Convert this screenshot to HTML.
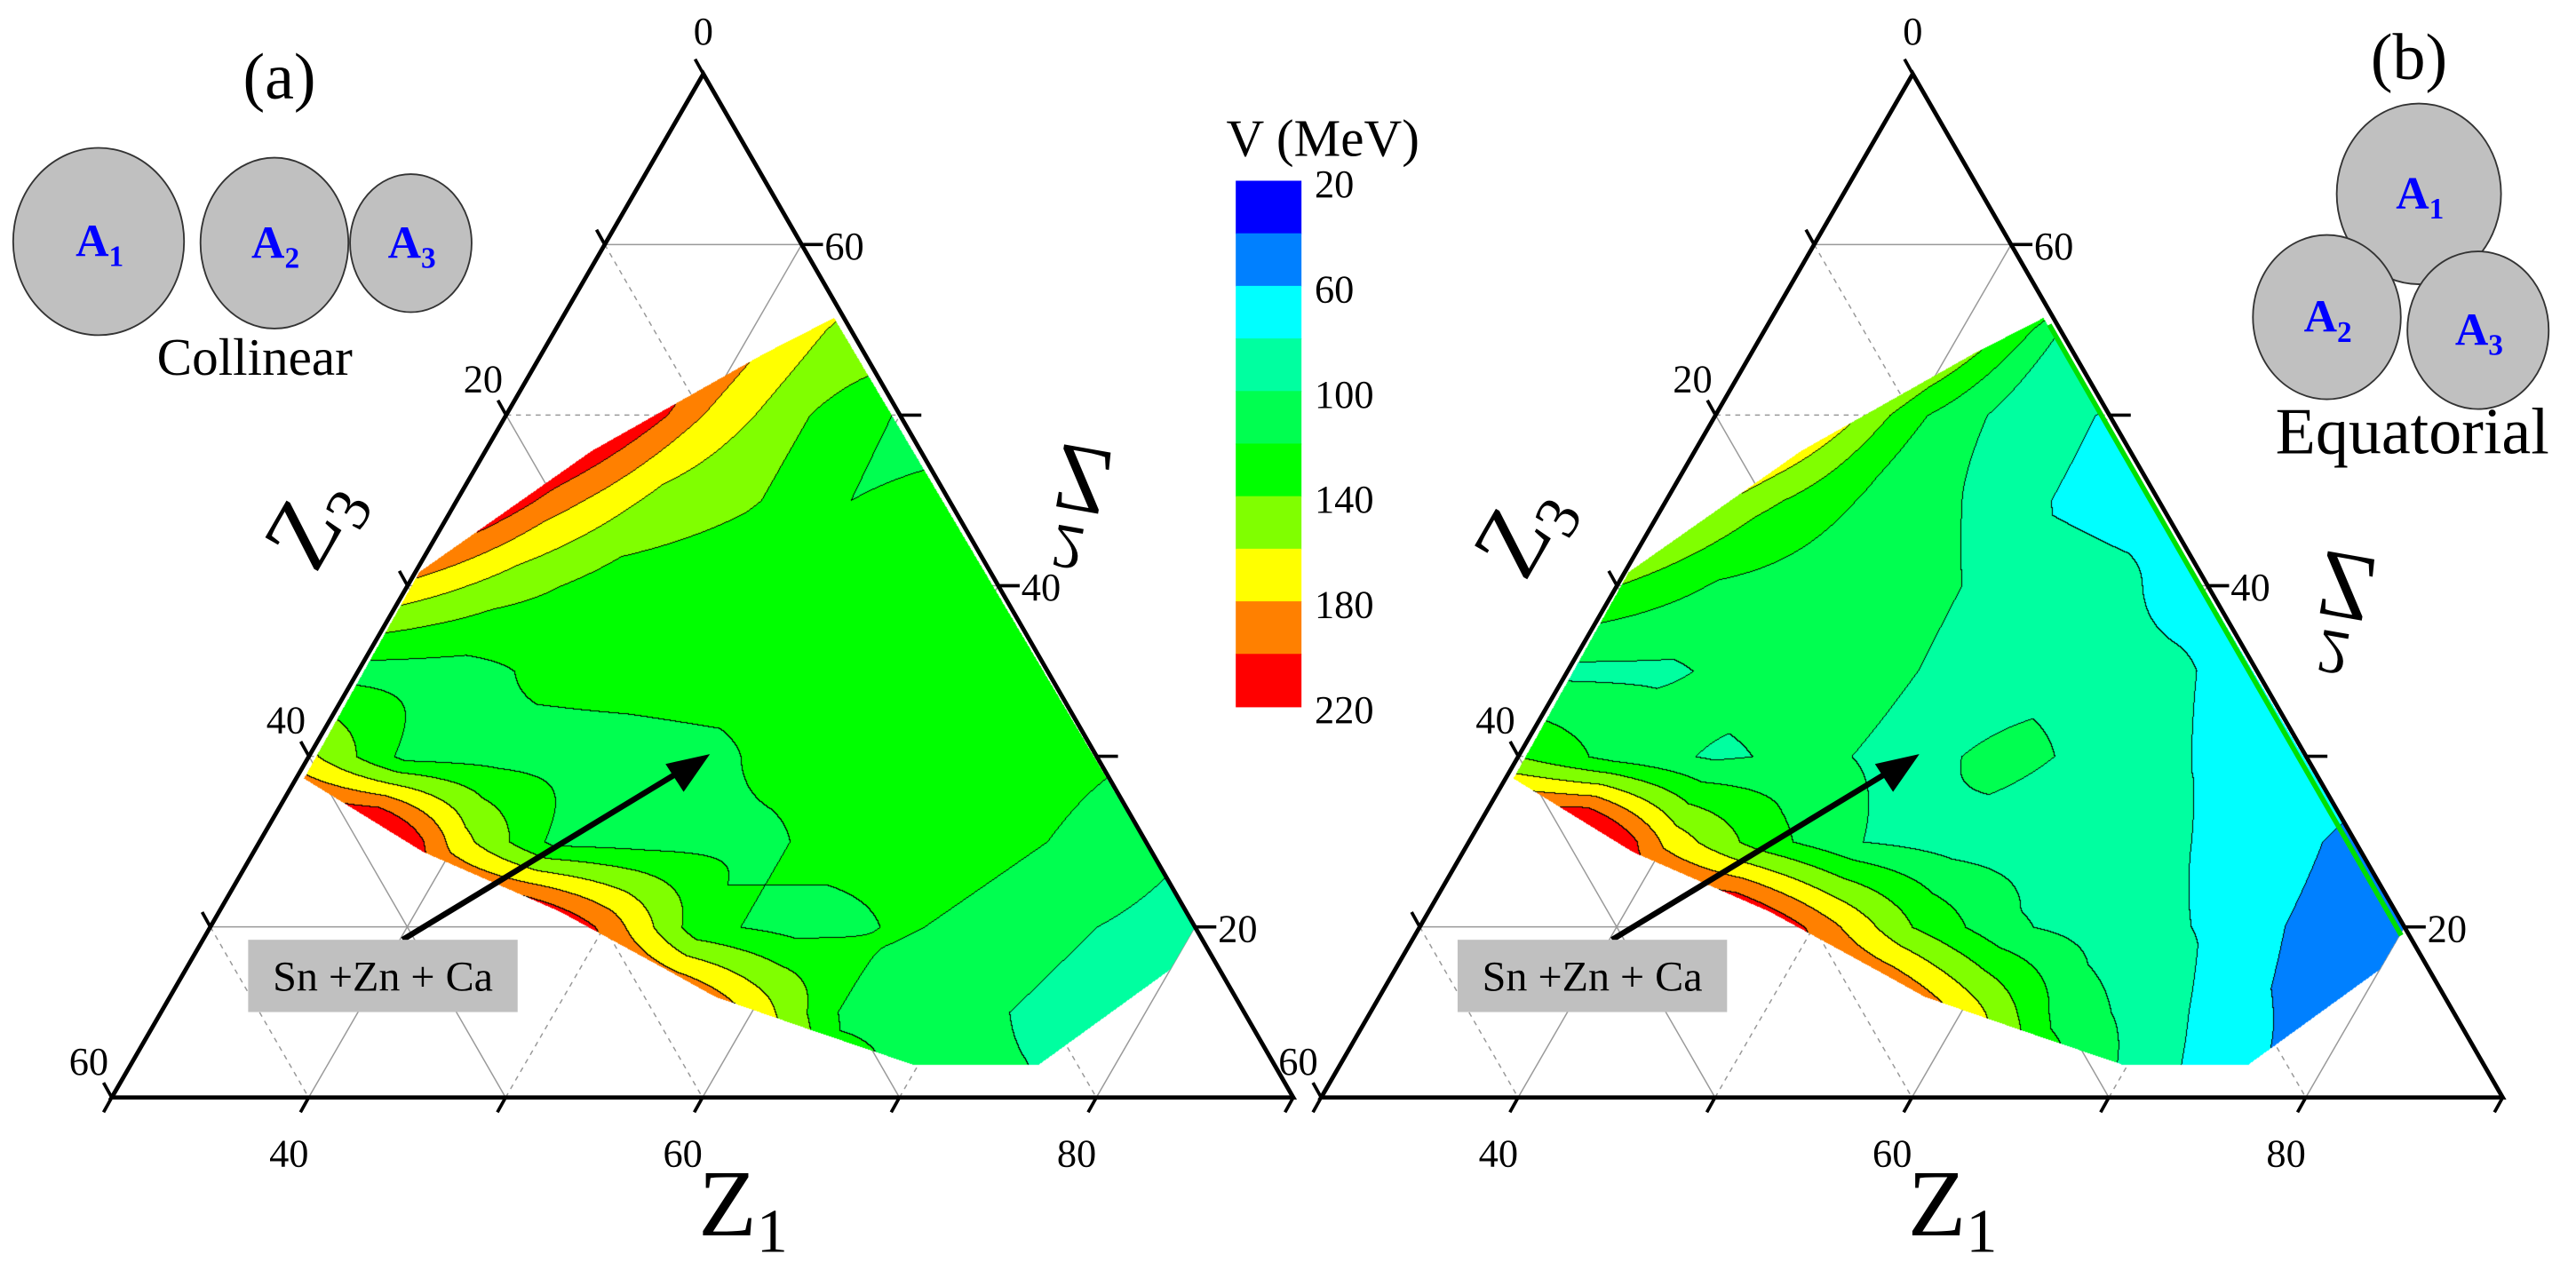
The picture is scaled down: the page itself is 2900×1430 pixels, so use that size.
<!DOCTYPE html>
<html><head><meta charset="utf-8">
<style>
html,body{margin:0;padding:0;background:#fff;}
#wrap{position:relative;width:2900px;height:1430px;overflow:hidden;background:#fff;}
svg,canvas{position:absolute;left:0;top:0;}
text{font-family:"Liberation Serif",serif;}
</style></head>
<body>
<div id="wrap">
<svg id="back" width="2900" height="1430" viewBox="0 0 1567.6 773"></svg>
<canvas id="cv" width="2900" height="1430"></canvas>
<svg id="front" width="2900" height="1430" viewBox="0 0 1567.6 773"></svg>
</div>
<script>
// ---- data ----
const z1Cols=[30,35,40,45,50,55,60,65,70,75,80,85,90];
const z2Rows=[10,15,20,25,30,35,40,45,50,55,60,65,70];
const vCollinear=[
[250,250,250,250,250,250,230,150,112,105,92,90,90],
[250,250,250,250,250,230,175,112,108,95,90,90,90],
[250,250,250,250,195,125,112,122,114,100,95,95,95],
[250,260,170,114,112,115,128,128,120,106,95,95,95],
[165,113,112,112,115,128,130,127,122,118,118,118,118],
[112,113,125,128,130,130,128,125,125,125,125,125,125],
[175,150,132,128,128,128,125,125,125,125,125,125,125],
[240,190,155,142,120,122,122,122,122,122,122,122,122],
[240,235,180,142,118,118,118,118,118,118,118,118,118],
[240,240,190,150,150,150,150,150,150,150,150,150,150],
[240,235,210,170,170,170,170,170,170,170,170,170,170],
[240,235,220,190,190,190,190,190,190,190,190,190,190],
[240,240,240,240,240,240,240,240,240,240,240,240,240]];
const vEquatorial=[
[250,250,250,250,250,250,230,150,100,70,50,45,45],
[250,250,250,250,250,230,175,113,88,62,50,45,45],
[250,250,250,250,195,140,103,90,78,55,45,45,45],
[250,260,175,128,100,90,88,85,70,55,55,55,55],
[140,112,97,105,92,108,90,78,65,65,65,65,65],
[95,97,108,110,92,90,85,72,72,72,72,72,72],
[140,118,112,110,90,85,70,70,70,70,70,70,70],
[185,145,118,100,78,72,72,72,72,72,72,72,72],
[230,190,125,92,78,78,78,78,78,78,78,78,78],
[235,225,170,100,100,100,100,100,100,100,100,100,100],
[235,225,190,150,150,150,150,150,150,150,150,150,150],
[235,230,210,180,180,180,180,180,180,180,180,180,180],
[235,235,235,235,235,235,235,235,235,235,235,235,235]];
const regionZ1=[43.8,80,80,76.1,69.8,63.4,57.7,54.4,47.3,38.6,30.4,30.2,35.4,41.3];
const regionZ2=[55.7,20,17.5,11.9,11.9,14.0,15.9,17.5,20.9,24.4,28.7,40.8,47.9,53.6];
const levels=[20,40,60,80,100,120,140,160,180,200,220];
const levelLabels=["20","60","100","140","180","220"];
const bandColors=["#0000ff","#0080ff","#00ffff","#00ffa0","#00ff50","#00ff00","#80ff00","#ffff00","#ff8000","#ff0000"];
const z1Ticks=[30,40,50,60,70,80,90];
const z1Labels=[40,60,80];
const z2Ticks=[20,30,40,50,60];
const z2Labels=[20,40,60];
const z3Ticks=[0,10,20,30,40,50,60];
const z3Labels=[0,20,40,60];

const S=2900/1567.6;
const NS="http://www.w3.org/2000/svg";
const panels=[{ox:0,grid:vCollinear,id:'a',z2t:[659,292,650,333]},{ox:736,grid:vEquatorial,id:'b',z2t:[1428,357,1420,397]}];
const BL={x:68,y:668},TP={x:428,y:45},BR={x:787,y:668};
function pt(p,z1,z2){const wT=(z2-10)/60,wR=(z1-30)/60;
 return {x:p.ox+BL.x+(BR.x-BL.x)*wR+(TP.x-BL.x)*wT, y:BL.y+(TP.y-BL.y)*wT};}
function inv(p,u,v){const wT=(BL.y-v)/(BL.y-TP.y);const wR=(u-p.ox-BL.x-(TP.x-BL.x)*wT)/(BR.x-BL.x);
 return [30+60*wR,10+60*wT];}
function inRegion(a,b){let c=false;const n=regionZ1.length;
 for(let i=0,j=n-1;i<n;j=i++){const xi=regionZ1[i],yi=regionZ2[i],xj=regionZ1[j],yj=regionZ2[j];
  if((yi>b)!=(yj>b)&&a<(xj-xi)*(b-yi)/(yj-yi)+xi)c=!c;}return c;}
function val(g,z1,z2){let fi=Math.min(Math.max((z1-30)/5,0),11.999),fj=Math.min(Math.max((z2-10)/5,0),11.999);
 const i=Math.floor(fi),j=Math.floor(fj),di=fi-i,dj=fj-j;
 return g[j][i]*(1-di)*(1-dj)+g[j][i+1]*di*(1-dj)+g[j+1][i]*(1-di)*dj+g[j+1][i+1]*di*dj;}
function band(v){let b=Math.floor((v-levels[0])/20);return Math.max(0,Math.min(bandColors.length-1,b));}
function hex(c){return [parseInt(c.substr(1,2),16),parseInt(c.substr(3,2),16),parseInt(c.substr(5,2),16)];}
const rgb=bandColors.map(hex);

// ---- canvas contour fill ----
const cv=document.getElementById('cv');const ctx=cv.getContext('2d');
const img=ctx.createImageData(2900,1430);const D=img.data;
panels.forEach(p=>{
 const x0=Math.floor((p.ox+170)*S),x1=Math.ceil((p.ox+740)*S),y0=Math.floor(180*S),y1=Math.ceil(660*S);
 const W=x1-x0,H=y1-y0;const B=new Int8Array(W*H).fill(-1);
 for(let y=0;y<H;y++)for(let x=0;x<W;x++){
  const z=inv(p,(x0+x+0.5)/S,(y0+y+0.5)/S);
  if(!inRegion(z[0],z[1]))continue;
  B[y*W+x]=band(val(p.grid,z[0],z[1]));}
 for(let y=0;y<H;y++)for(let x=0;x<W;x++){
  const b=B[y*W+x];if(b<0)continue;
  const k=((y0+y)*2900+(x0+x))*4;
  let edge=(x>0&&B[y*W+x-1]>=0&&B[y*W+x-1]!=b)||(y>0&&B[(y-1)*W+x]>=0&&B[(y-1)*W+x]!=b);
  const c=edge?[0,0,0]:rgb[b];
  D[k]=c[0];D[k+1]=c[1];D[k+2]=c[2];D[k+3]=255;}
});
ctx.putImageData(img,0,0);

// ---- svg helpers ----
const back=document.getElementById('back'),front=document.getElementById('front');
function el(parent,tag,attrs,txt){const e=document.createElementNS(NS,tag);for(const k in attrs)e.setAttribute(k,attrs[k]);if(txt!==undefined)e.textContent=txt;parent.appendChild(e);return e;}

panels.forEach(p=>{
 for(let v=40;v<=80;v+=10){const a=pt(p,v,10),b=pt(p,v,100-v);
  const g=el(back,'line',{x1:a.x,y1:a.y,x2:b.x,y2:b.y,stroke:'#999','stroke-width':0.8,'stroke-dasharray':(v%20==0)?'none':'3,3'});
  }
 for(let v=20;v<=60;v+=10){const a=pt(p,30,v),b=pt(p,100-v,v);
  const g=el(back,'line',{x1:a.x,y1:a.y,x2:b.x,y2:b.y,stroke:'#999','stroke-width':0.8,'stroke-dasharray':(v%20==0)?'none':'3,3'});
  }
 for(let v=10;v<=50;v+=10){const a=pt(p,30,70-v),b=pt(p,90-v,10);
  const g=el(back,'line',{x1:a.x,y1:a.y,x2:b.x,y2:b.y,stroke:'#999','stroke-width':0.8,'stroke-dasharray':(v%20==0)?'none':'3,3'});
  }
 const A=pt(p,30,10),T=pt(p,30,70),R=pt(p,90,10);
 const tri=el(front,'polygon',{points:`${A.x},${A.y} ${T.x},${T.y} ${R.x},${R.y}`,fill:'none',stroke:'#000','stroke-width':2.6,'stroke-linejoin':'miter'});
 
 z1Ticks.forEach(v=>{const q=pt(p,v,10);const t=el(front,'line',{x1:q.x,y1:q.y,x2:q.x-5,y2:q.y+9,stroke:'#000','stroke-width':2});
  });
 z1Labels.forEach(v=>{const q=pt(p,v,10);const t=el(front,'text',{x:q.x-12,y:q.y+42,'font-size':24,'text-anchor':'middle'},String(v));
  });
 z2Ticks.forEach(v=>{const q=pt(p,100-v,v);const t=el(front,'line',{x1:q.x,y1:q.y,x2:q.x+13,y2:q.y,stroke:'#000','stroke-width':2});
  });
 z2Labels.forEach(v=>{const q=pt(p,100-v,v);const t=el(front,'text',{x:q.x+14,y:q.y+9,'font-size':24},String(v));
  });
 z3Ticks.forEach(v=>{const q=pt(p,30,70-v);const t=el(front,'line',{x1:q.x,y1:q.y,x2:q.x-5,y2:q.y-9,stroke:'#000','stroke-width':2});
  });
 z3Labels.forEach(v=>{const q=pt(p,30,70-v);const dx=v==0?0:-14,dy=v==0?-18:-14;
  const t=el(front,'text',{x:q.x+dx,y:q.y+dy,'font-size':24,'text-anchor':'middle'},String(v));
  });
 const t1=el(front,'text',{x:p.ox+425,y:752,'font-size':58},'');
 
 el(t1,'tspan',{},'Z');el(t1,'tspan',{'font-size':38,dy:10},'1');
 const t3=el(front,'text',{x:0,y:0,'font-size':58,transform:`translate(${p.ox+192},${p.id=='a'?350:355}) rotate(-60)`},'');
 
 el(t3,'tspan',{},'Z');el(t3,'tspan',{'font-size':38,dy:10},'3');
 const c=p.z2t;
 const t2=el(front,'text',{x:0,y:0,'font-size':58,'text-anchor':'middle','dominant-baseline':'central',transform:`translate(${c[0]},${c[1]}) rotate(10) scale(1,-1)`},'Z');
 
 const t2s=el(front,'text',{x:0,y:0,'font-size':38,'text-anchor':'middle','dominant-baseline':'central',transform:`translate(${c[2]},${c[3]}) rotate(10) scale(1,-1)`},'2');
 
 const ar=el(front,'line',{x1:p.ox+245,y1:572,x2:p.ox+418,y2:467,stroke:'#000','stroke-width':3.5});
 
 const ah=el(front,'polygon',{points:`${p.ox+432},${459} ${p.ox+405},${465} ${p.ox+416},${482}`,fill:'#000'});
 
 const bx=el(front,'rect',{x:p.ox+151,y:572,width:164,height:44,fill:'#c0c0c0'});
 
 const bt=el(front,'text',{x:p.ox+233,y:603,'font-size':26,'text-anchor':'middle'},'Sn +Zn + Ca');
 
});

(function(){const p=panels[1];const a=pt(p,44.5,55.3),b=pt(p,80.3,19.5);
 const l=el(front,'line',{x1:a.x-2.5,y1:a.y,x2:b.x-2.5,y2:b.y,stroke:'#00e000','stroke-width':3});
 })();

const cb=el(front,'g',{});
bandColors.forEach((c,i)=>{const r=el(cb,'rect',{x:752,y:110+i*32,width:40,height:32.5,fill:c});
 });
levelLabels.forEach((t,i)=>{const e=el(cb,'text',{x:800,y:120+i*64,'font-size':24},t);
 });
const ct=el(front,'text',{x:805,y:95,'font-size':32,'text-anchor':'middle'},'V (MeV)');


function circ(cx,cy,rx,ry,lab,name){const c=el(front,'ellipse',{cx:cx,cy:cy,rx:rx,ry:ry,fill:'#c0c0c0',stroke:'#333','stroke-width':1});
 
 const t=el(front,'text',{x:cx-14,y:cy+9,'font-size':28,'font-weight':'bold',fill:'#0000ff'},'');
 
 el(t,'tspan',{},'A');el(t,'tspan',{'font-size':18,dy:6},lab);}
circ(60,147,52,57,'1','fragment-a1-collinear');circ(167,148,45,52,'2','fragment-a2-collinear');circ(250,148,37,42,'3','fragment-a3-collinear');
circ(1472,118,50,55,'1','fragment-a1-equatorial');circ(1416,193,45,50,'2','fragment-a2-equatorial');circ(1508,201,43,48,'3','fragment-a3-equatorial');
const la=el(front,'text',{x:170,y:60,'font-size':40,'text-anchor':'middle'},'(a)');
const lb=el(front,'text',{x:1466,y:48,'font-size':40,'text-anchor':'middle'},'(b)');
const lc=el(front,'text',{x:155,y:228,'font-size':32,'text-anchor':'middle'},'Collinear');
const le=el(front,'text',{x:1468,y:276,'font-size':40,'text-anchor':'middle'},'Equatorial');
</script>
</body></html>
